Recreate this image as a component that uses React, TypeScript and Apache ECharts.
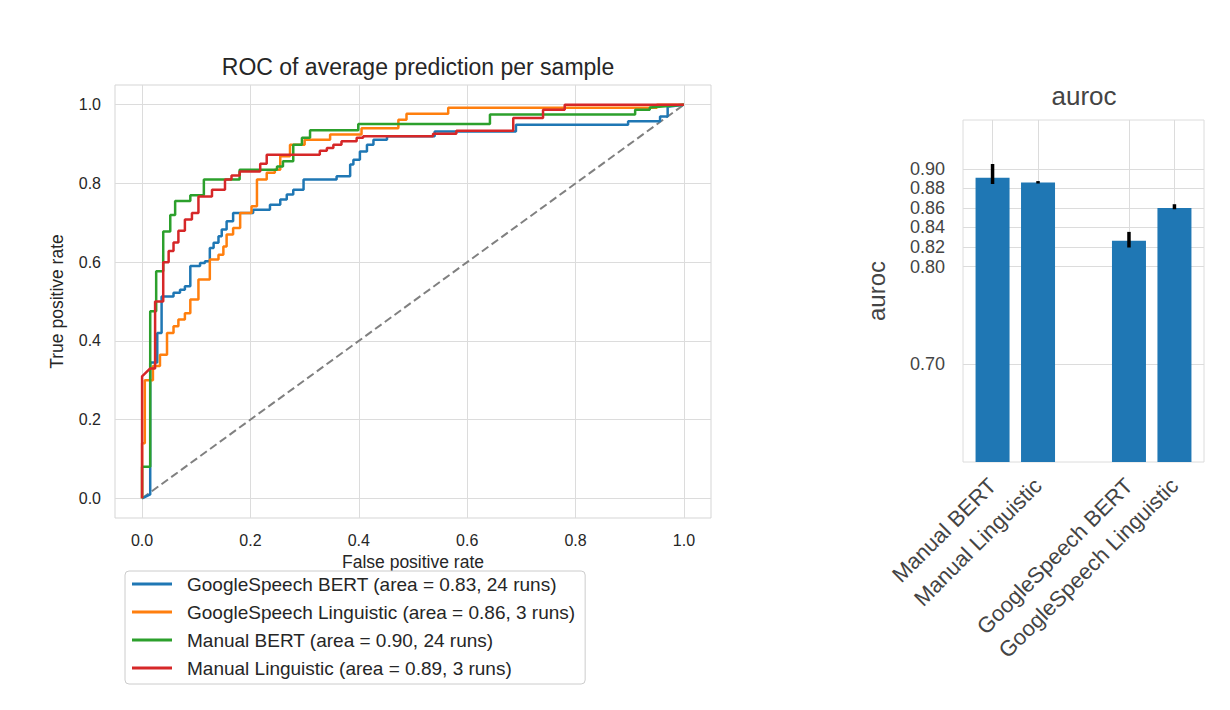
import React, { useEffect, useRef } from "react";
import * as echarts from "echarts";

const FONT = "'Liberation Sans', Arial, sans-serif";

// ---- ROC panel data ----
const rocTicks = [0, 0.2, 0.4, 0.6, 0.8, 1.0];

const gsBertFpr = [0, 0.015, 0.015, 0.028, 0.028, 0.036, 0.036, 0.058, 0.058, 0.07, 0.07, 0.079, 0.079, 0.089, 0.089, 0.107, 0.107, 0.116, 0.116, 0.125, 0.125, 0.132, 0.132, 0.141, 0.141, 0.147, 0.147, 0.156, 0.156, 0.168, 0.168, 0.205, 0.205, 0.236, 0.236, 0.255, 0.255, 0.267, 0.267, 0.279, 0.279, 0.298, 0.298, 0.359, 0.359, 0.384, 0.384, 0.39, 0.39, 0.402, 0.402, 0.415, 0.415, 0.427, 0.427, 0.452, 0.452, 0.54, 0.54, 0.69, 0.69, 0.897, 0.897, 0.956, 0.956, 0.97, 0.97, 1.0];
const gsBertTpr = [0, 0.01, 0.345, 0.345, 0.42, 0.42, 0.513, 0.513, 0.522, 0.522, 0.53, 0.53, 0.539, 0.539, 0.59, 0.59, 0.598, 0.598, 0.602, 0.602, 0.636, 0.636, 0.649, 0.649, 0.666, 0.666, 0.683, 0.683, 0.704, 0.704, 0.725, 0.725, 0.733, 0.733, 0.746, 0.746, 0.759, 0.759, 0.772, 0.772, 0.784, 0.784, 0.81, 0.81, 0.818, 0.818, 0.848, 0.848, 0.86, 0.86, 0.881, 0.881, 0.898, 0.898, 0.911, 0.911, 0.92, 0.92, 0.932, 0.932, 0.949, 0.949, 0.958, 0.958, 0.97, 0.97, 0.995, 1.0];

const gsLingFpr = [0, 0, 0.005, 0.005, 0.02, 0.02, 0.033, 0.033, 0.046, 0.046, 0.058, 0.058, 0.067, 0.067, 0.079, 0.079, 0.089, 0.089, 0.104, 0.104, 0.125, 0.125, 0.141, 0.141, 0.15, 0.15, 0.156, 0.156, 0.168, 0.168, 0.181, 0.181, 0.202, 0.202, 0.212, 0.212, 0.23, 0.23, 0.245, 0.245, 0.255, 0.255, 0.273, 0.273, 0.3, 0.3, 0.347, 0.347, 0.405, 0.405, 0.473, 0.473, 0.488, 0.488, 0.565, 0.565, 0.95, 0.95, 1.0];
const gsLingTpr = [0, 0.14, 0.14, 0.3, 0.3, 0.336, 0.336, 0.365, 0.365, 0.42, 0.42, 0.437, 0.437, 0.454, 0.454, 0.47, 0.47, 0.505, 0.505, 0.556, 0.556, 0.607, 0.607, 0.619, 0.619, 0.64, 0.64, 0.67, 0.67, 0.687, 0.687, 0.725, 0.725, 0.742, 0.742, 0.81, 0.81, 0.827, 0.827, 0.835, 0.835, 0.869, 0.869, 0.898, 0.898, 0.911, 0.911, 0.924, 0.924, 0.94, 0.94, 0.962, 0.962, 0.977, 0.977, 0.992, 0.992, 1.0, 1.0];

const manBertFpr = [0, 0, 0.015, 0.015, 0.026, 0.026, 0.039, 0.039, 0.052, 0.052, 0.061, 0.061, 0.089, 0.089, 0.114, 0.114, 0.18, 0.18, 0.249, 0.249, 0.26, 0.26, 0.279, 0.279, 0.295, 0.295, 0.31, 0.31, 0.399, 0.399, 0.642, 0.642, 0.91, 0.91, 0.937, 0.937, 1.0];
const manBertTpr = [0, 0.08, 0.08, 0.475, 0.475, 0.577, 0.577, 0.678, 0.678, 0.72, 0.72, 0.755, 0.755, 0.77, 0.77, 0.81, 0.81, 0.835, 0.835, 0.843, 0.843, 0.856, 0.856, 0.898, 0.898, 0.916, 0.916, 0.935, 0.935, 0.951, 0.951, 0.975, 0.975, 0.987, 0.987, 0.993, 1.0];

const manLingFpr = [0, 0, 0.015, 0.024, 0.024, 0.039, 0.039, 0.049, 0.049, 0.058, 0.058, 0.067, 0.067, 0.079, 0.079, 0.092, 0.092, 0.104, 0.104, 0.129, 0.129, 0.153, 0.153, 0.165, 0.165, 0.18, 0.18, 0.218, 0.218, 0.23, 0.23, 0.328, 0.328, 0.341, 0.341, 0.353, 0.353, 0.368, 0.368, 0.396, 0.396, 0.408, 0.408, 0.537, 0.537, 0.58, 0.58, 0.685, 0.685, 0.74, 0.74, 0.78, 0.78, 1.0];
const manLingTpr = [0, 0.31, 0.33, 0.33, 0.5, 0.5, 0.6, 0.6, 0.628, 0.628, 0.65, 0.65, 0.68, 0.68, 0.708, 0.708, 0.725, 0.725, 0.767, 0.767, 0.784, 0.784, 0.81, 0.81, 0.82, 0.82, 0.83, 0.83, 0.85, 0.85, 0.873, 0.873, 0.883, 0.883, 0.89, 0.89, 0.898, 0.898, 0.907, 0.907, 0.916, 0.916, 0.92, 0.92, 0.926, 0.926, 0.934, 0.934, 0.966, 0.966, 0.987, 0.987, 1.0, 1.0];

const rocNames = [
  "GoogleSpeech BERT (area = 0.83, 24 runs)",
  "GoogleSpeech Linguistic (area = 0.86, 3 runs)",
  "Manual BERT (area = 0.90, 24 runs)",
  "Manual Linguistic (area = 0.89, 3 runs)",
];
const rocColors = ["#1f77b4", "#ff7f0e", "#2ca02c", "#d62728"];
const rocFpr = [gsBertFpr, gsLingFpr, manBertFpr, manLingFpr];
const rocTpr = [gsBertTpr, gsLingTpr, manBertTpr, manLingTpr];

// ---- AUROC bar panel data ----
const barLabels = ["Manual BERT", "Manual Linguistic", "GoogleSpeech BERT", "GoogleSpeech Linguistic"];
const barPositions = [0, 1, 3, 4];
const barValues = [0.891, 0.886, 0.8265, 0.86];
const errLow = [0.8845, 0.885, 0.8195, 0.8587];
const errHigh = [0.905, 0.8875, 0.8355, 0.8638];
const barTicks = [0.7, 0.8, 0.82, 0.84, 0.86, 0.88, 0.9];

export default function App() {
  const ref = useRef<HTMLDivElement>(null);

  useEffect(() => {
    document.body.style.margin = "0";
    if (!ref.current) return;
    const chart = echarts.init(ref.current, null, { renderer: "svg" });

    const rocSeries = rocNames.map((name, k) => ({
      name,
      type: "line",
      xAxisIndex: 0,
      yAxisIndex: 0,
      data: rocFpr[k].map((x, i) => [x, rocTpr[k][i]]),
      showSymbol: false,
      symbol: "none",
      lineStyle: { color: rocColors[k], width: 2.5 },
      itemStyle: { color: rocColors[k] },
      z: 3,
    }));

    const gridLineStyle = { color: "#dcdcdc", width: 1, type: "solid" };

    const option: any = {
      animation: false,
      backgroundColor: "#ffffff",
      textStyle: { fontFamily: FONT },
      title: [
        {
          text: "ROC of average prediction per sample",
          left: 413,
          top: 50,
          textAlign: "center",
          textStyle: { fontSize: 23, fontWeight: "normal", color: "#262626", fontFamily: FONT },
        },
        {
          text: "auroc",
          left: 1079,
          top: 78,
          textAlign: "center",
          textStyle: { fontSize: 26, fontWeight: "normal", color: "#444444", fontFamily: FONT },
        },
      ],
      legend: {
        orient: "vertical",
        left: 125,
        top: 571,
        data: rocNames,
        icon: "rect",
        itemWidth: 40,
        itemHeight: 3,
        itemGap: 8,
        textStyle: { fontSize: 19, color: "#262626", fontFamily: FONT, lineHeight: 20, padding: [0, 0, 0, 10] },
        backgroundColor: "#ffffff",
        borderColor: "#cccccc",
        borderWidth: 1,
        borderRadius: 4,
        padding: [3, 10, 6, 7],
      },
      grid: [
        { left: 115, top: 85, width: 596, height: 433, show: true, borderColor: "#d5d5d5", borderWidth: 1 },
        { left: 963, top: 120, width: 241, height: 342, show: true, borderColor: "#dcdcdc", borderWidth: 1 },
      ],
      xAxis: [
        {
          type: "value",
          gridIndex: 0,
          min: -0.05,
          max: 1.05,
          axisLine: { show: false },
          axisTick: { show: false },
          splitLine: { show: false },
          axisLabel: {
            customValues: rocTicks,
            formatter: (v: number) => v.toFixed(1),
            color: "#262626",
            fontSize: 16,
            margin: 14,
          },
          name: "False positive rate",
          nameLocation: "middle",
          nameGap: 35,
          nameTextStyle: { fontSize: 17.5, color: "#262626" },
        },
        {
          type: "value",
          gridIndex: 1,
          min: -0.65,
          max: 4.65,
          axisLine: { show: false },
          axisTick: { show: false },
          splitLine: { show: false },
          axisLabel: {
            customValues: barPositions,
            formatter: (v: number) => barLabels[barPositions.indexOf(Math.round(v))] ?? "",
            rotate: 45,
            color: "#444444",
            fontSize: 22,
            margin: 20,
          },
        },
      ],
      yAxis: [
        {
          type: "value",
          gridIndex: 0,
          min: -0.05,
          max: 1.05,
          axisLine: { show: false },
          axisTick: { show: false },
          splitLine: { show: false },
          axisLabel: {
            customValues: rocTicks,
            formatter: (v: number) => v.toFixed(1),
            color: "#262626",
            fontSize: 16,
            margin: 14,
          },
          name: "True positive rate",
          nameLocation: "middle",
          nameGap: 49,
          nameTextStyle: { fontSize: 17.5, color: "#262626" },
        },
        {
          type: "value",
          gridIndex: 1,
          min: 0.6,
          max: 0.95,
          axisLine: { show: false },
          axisTick: { show: false },
          splitLine: { show: false },
          axisLabel: {
            customValues: barTicks,
            formatter: (v: number) => v.toFixed(2),
            color: "#444444",
            fontSize: 18,
            lineHeight: 17,
            margin: 18,
            hideOverlap: false,
            showMinLabel: true,
            showMaxLabel: true,
          },
          name: "auroc",
          nameLocation: "middle",
          nameGap: 75,
          nameTextStyle: { fontSize: 24, color: "#444444" },
        },
      ],
      series: [
        {
          name: "rocGrid",
          type: "line",
          xAxisIndex: 0,
          yAxisIndex: 0,
          data: [[0, 0]],
          symbol: "none",
          showSymbol: false,
          lineStyle: { width: 0 },
          silent: true,
          z: 0,
          markLine: {
            silent: true,
            z: 0,
            symbol: ["none", "none"],
            label: { show: false },
            lineStyle: gridLineStyle,
            emphasis: { disabled: true },
            data: [...rocTicks.map((v) => ({ xAxis: v })), ...rocTicks.map((v) => ({ yAxis: v }))],
          },
        },
        {
          name: "chance",
          type: "line",
          xAxisIndex: 0,
          yAxisIndex: 0,
          data: [[0, 0], [1, 1]],
          symbol: "none",
          showSymbol: false,
          lineStyle: { color: "#808080", width: 2, type: [8, 4] },
          z: 1,
        },
        ...rocSeries,
        {
          name: "barGrid",
          type: "line",
          xAxisIndex: 1,
          yAxisIndex: 1,
          data: [[0, 0.6]],
          symbol: "none",
          showSymbol: false,
          lineStyle: { width: 0 },
          silent: true,
          z: 0,
          markLine: {
            silent: true,
            z: 0,
            symbol: ["none", "none"],
            label: { show: false },
            lineStyle: gridLineStyle,
            emphasis: { disabled: true },
            data: [...barPositions.map((v) => ({ xAxis: v })), ...barTicks.map((v) => ({ yAxis: v }))],
          },
        },
        {
          name: "auroc",
          type: "bar",
          xAxisIndex: 1,
          yAxisIndex: 1,
          data: barPositions.map((p, i) => [p, barValues[i]]),
          barWidth: 34,
          itemStyle: { color: "#1f77b4" },
          z: 2,
        },
        {
          name: "err",
          type: "custom",
          xAxisIndex: 1,
          yAxisIndex: 1,
          data: barPositions.map((p, i) => [p, errLow[i], errHigh[i]]),
          encode: { x: 0, y: [1, 2] },
          z: 5,
          renderItem: (params: any, api: any) => {
            const x = api.value(0);
            const lo = api.coord([x, api.value(1)]);
            const hi = api.coord([x, api.value(2)]);
            return {
              type: "line",
              shape: { x1: lo[0], y1: lo[1], x2: hi[0], y2: hi[1] },
              style: { stroke: "#000000", lineWidth: 3.5 },
            };
          },
        },
      ],
    };

    chart.setOption(option);
    return () => chart.dispose();
  }, []);

  return <div ref={ref} style={{ width: 1230, height: 710 }} />;
}
